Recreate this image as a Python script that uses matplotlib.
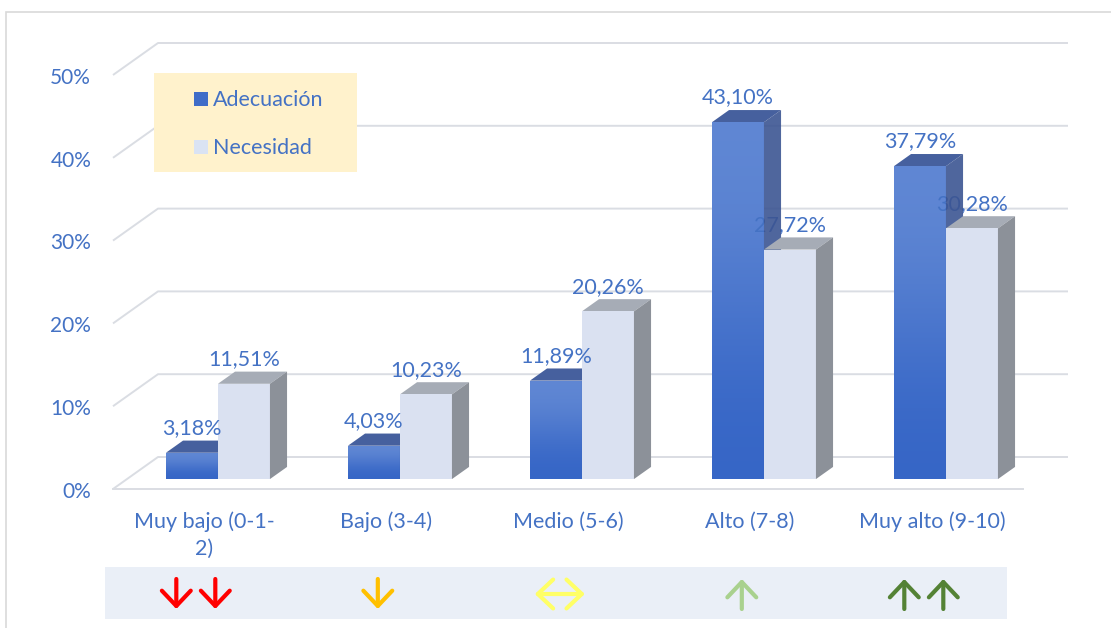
import numpy as np
import matplotlib
matplotlib.use("Agg")
import matplotlib.pyplot as plt
from matplotlib.patches import Polygon, Rectangle
from matplotlib.colors import LinearSegmentedColormap

# =========================
# 1. Data
# =========================

categories = ["Muy bajo (0-1-\n2)", "Bajo (3-4)", "Medio (5-6)", "Alto (7-8)", "Muy alto (9-10)"]
adecuacion = [3.18, 4.03, 11.89, 43.10, 37.79]
necesidad = [11.51, 10.23, 20.26, 27.72, 30.28]
series_names = ["Adecuación", "Necesidad"]
y_ticks = [0, 10, 20, 30, 40, 50]

arrow_symbols = ["↓↓", "↓", "↔", "↑", "↑↑"]
arrow_colors = ["#FF0000", "#FFC000", "#FFFF66", "#A9D18E", "#548235"]

# =========================
# 2. Style / geometry
# =========================

TEXT_BLUE = "#4472C4"
GRID = "#DADDE3"
FONT = "Lato"
FS = 15.5

W, H = 1111, 628
PX_X = 182.0          # pixels per category
PX_Y = 8.28           # pixels per percent
X0_PX, Y0_PX = 204, 489

depth_dx = 45 / PX_X  # full floor depth, in category units
depth_dy = 32 / PX_Y  # full floor depth, in percent units
bar_front, bar_back = 0.31, 0.69
bar_w = 52 / PX_X

plt.rcParams["font.family"] = [FONT, "DejaVu Sans"]

fig = plt.figure(figsize=(W / 100, H / 100), dpi=100)
ax = fig.add_axes([0, 0, 1, 1])
ax.axis("off")


def px(x, y):
    # pixel position in the picture -> data units of the chart
    return (x - X0_PX) / PX_X, (Y0_PX - y) / PX_Y


# frame around the chart
ax.add_patch(Rectangle((6 / W, -0.1), 1.2, 1 - 12 / H + 0.1, transform=fig.transFigure,
                       facecolor="none", edgecolor="#D9D9D9", lw=1.2, zorder=0))

# =========================
# 3. Walls / gridlines
# =========================

left, right = -0.5, len(categories) - 0.5
for v in y_ticks:
    ax.plot([left, left + depth_dx, right + depth_dx], [v, v + depth_dy, v + depth_dy],
            color=GRID, lw=1.4, zorder=1, solid_capstyle="butt")
    ax.text(left - 0.12, v - 0.35, f"{v}%", ha="right", va="center",
            color=TEXT_BLUE, fontsize=FS - 0.5)
ax.plot([left, right], [0, 0], color=GRID, lw=1.4, zorder=1)

# =========================
# 4. Bars
# =========================

blue_grad = LinearSegmentedColormap.from_list("bg", ["#3565C6", "#6188D4"])
light_face = "#DAE1F1"

fx = bar_front * depth_dx
base = bar_front * depth_dy
ex = (bar_back - bar_front) * depth_dx
ey = (bar_back - bar_front) * depth_dy


def draw_bar(x0, h, front, top, side, z, gradient=None, side_alpha=1.0):
    b = base
    ax.add_patch(Polygon([(x0, b + h), (x0 + bar_w, b + h), (x0 + bar_w + ex, b + h + ey),
                          (x0 + ex, b + h + ey)], closed=True, facecolor=top,
                         edgecolor="none", zorder=z))
    ax.add_patch(Polygon([(x0 + bar_w, b), (x0 + bar_w + ex, b + ey), (x0 + bar_w + ex, b + h + ey),
                          (x0 + bar_w, b + h)], closed=True, facecolor=side,
                         edgecolor="none", zorder=z + 0.6, alpha=side_alpha))
    rect = Rectangle((x0, b), bar_w, h, facecolor=front, edgecolor="none", zorder=z)
    ax.add_patch(rect)
    if gradient is not None:
        im = ax.imshow(np.array([[0.0], [1.0]]), cmap=gradient, origin="lower",
                       extent=(x0, x0 + bar_w, b, b + h), aspect="auto",
                       interpolation="bicubic", zorder=z + 0.01)
        im.set_clip_path(rect)


for i, (a, n) in enumerate(zip(adecuacion, necesidad)):
    xa = i + fx - bar_w
    xn = i + fx
    draw_bar(xa, a, "#4F7BD0", "#46609E", "#3C5592", 3, gradient=blue_grad, side_alpha=0.9)
    draw_bar(xn, n, light_face, "#A6ACB6", "#8C9199", 4)

    ax.text(xa + bar_w / 2, base + a + ey + 0.3, f"{a:.2f}%".replace(".", ","),
            ha="center", va="bottom", color=TEXT_BLUE, fontsize=FS, zorder=6)
    # sits partly behind the side face of the blue bar, as in the source
    ax.text(xn + bar_w / 2, base + n + ey + 0.3, f"{n:.2f}%".replace(".", ","),
            ha="center", va="bottom", color=TEXT_BLUE, fontsize=FS, zorder=3.5)

    ax.text(i, -2.75, categories[i], ha="center", va="top", color=TEXT_BLUE,
            fontsize=FS, linespacing=1.4)

# =========================
# 5. Legend box
# =========================

lx, ly = px(154, 172)
ax.add_patch(Rectangle((lx, ly), 203 / PX_X, 99 / PX_Y, facecolor="#FFF2CC",
                       edgecolor="none", zorder=5))
for k, (name, col) in enumerate(zip(series_names, ["#3F6DC8", "#DAE3F3"])):
    sx, cy = px(194, 99 + 48 * k)
    ax.add_patch(Rectangle((sx, cy - 7 / PX_Y), 14 / PX_X, 14 / PX_Y,
                           facecolor=col, edgecolor="none", zorder=6))
    ax.text(sx + 19 / PX_X, cy - 0.1, name, ha="left", va="center",
            color=TEXT_BLUE, fontsize=FS, zorder=6)

# =========================
# 6. Arrow strip
# =========================

sx, sy = px(105, 619)
ax.add_patch(Rectangle((sx, sy), (1007 - 105) / PX_X, 52 / PX_Y,
                       facecolor="#EAEFF7", edgecolor="none", zorder=0.5))

y_mid = px(0, 594)[1]
half_v = 15 / PX_Y     # half arrow length, vertical
half_h = 25 / PX_X     # half arrow length, horizontal
step = 39 / PX_X       # spacing of doubled arrows
for i, (sym, col) in enumerate(zip(arrow_symbols, arrow_colors)):
    for k, ch in enumerate(sym):
        cx = i - 0.045 + (k - (len(sym) - 1) / 2) * step
        if ch == "↓":
            tail, tip, style = (cx, y_mid + half_v), (cx, y_mid - half_v), "->"
        elif ch == "↑":
            tail, tip, style = (cx, y_mid - half_v), (cx, y_mid + half_v), "->"
        else:
            tail, tip, style = (cx - half_h, y_mid), (cx + half_h, y_mid), "<->"
        ax.annotate("", xy=tip, xytext=tail, zorder=6,
                    arrowprops=dict(arrowstyle=f"{style}, head_length=0.55, head_width=0.52",
                                    color=col, lw=3, mutation_scale=20,
                                    shrinkA=0, shrinkB=0))

ax.set_xlim(-X0_PX / PX_X, (W - X0_PX) / PX_X)
ax.set_ylim(-(H - Y0_PX) / PX_Y, Y0_PX / PX_Y)

fig.savefig("out.png", dpi=100)
